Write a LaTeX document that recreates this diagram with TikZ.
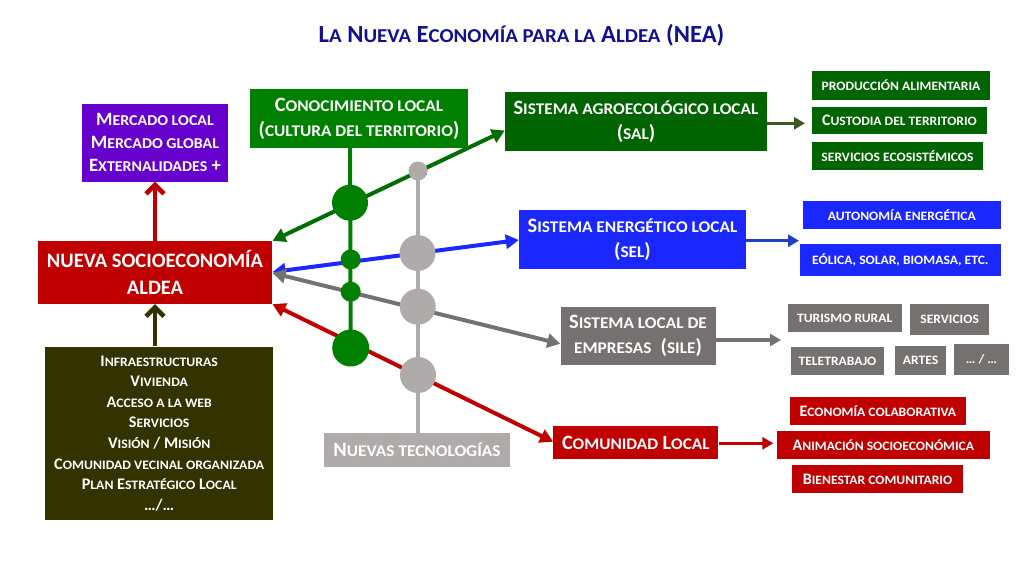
\documentclass[tikz,border=0pt]{standalone}
\usepackage{fontspec}
\setmainfont{Carlito}
\newfontfamily\smallf{Carlito}[Scale=0.8, FakeStretch=1.06]
\usetikzlibrary{arrows.meta}
\newcommand\lc[1]{{\smallf #1}}
\definecolor{navy}{RGB}{16,16,144}
\definecolor{cpurple}{RGB}{102,0,204}
\definecolor{cgreen}{RGB}{0,128,0}
\definecolor{dgreen}{RGB}{0,100,0}
\definecolor{agreen}{RGB}{0,110,0}
\definecolor{oarrow}{RGB}{62,88,38}
\definecolor{cblue}{RGB}{26,40,255}
\definecolor{barrow}{RGB}{32,64,200}
\definecolor{cred}{RGB}{192,0,0}
\definecolor{cgray}{RGB}{118,113,113}
\definecolor{lgray}{RGB}{175,171,171}
\definecolor{colive}{RGB}{51,51,0}
\tikzset{
  box/.style={rectangle, inner sep=0pt, text=white, align=center,
    font=\bfseries\fontsize{20.4}{25}\selectfont},
  item/.style={rectangle, inner sep=0pt, text=white, align=center,
    font=\bfseries\fontsize{16}{19}\selectfont},
  dbl/.style={line width=4pt, {Triangle[length=13pt,width=14pt]}-{Triangle[length=13pt,width=14pt]}},
  sarr/.style={line width=3.5pt, -{Triangle[length=11pt,width=12pt]}},
  barb/.style={line width=4.5pt, -{Straight Barb[length=9pt,width=18pt,line width=4.5pt]}},
  bigdot/.style={circle, inner sep=0pt, minimum size=36pt},
  smalldot/.style={circle, inner sep=0pt, minimum size=20pt},
}
\begin{document}
\begin{tikzpicture}[x=1pt,y=-1pt]
\fill[white] (0,0) rectangle (1024,576);
\useasboundingbox (0,0) rectangle (1024,576);

\node[text=navy, font=\bfseries\fontsize{24.6}{28}\selectfont] (title) at (521.5,35)
  {L\lc{A} N\lc{UEVA} E\lc{CONOMÍA PARA LA} A\lc{LDEA} (NEA)};

% main boxes
\node[box, fill=cpurple, minimum width=146pt, minimum height=78pt, font=\bfseries\fontsize{18.8}{23}\selectfont] (merc) at (155,142.5)
  {M\lc{ERCADO LOCAL}\\M\lc{ERCADO GLOBAL}\\E\lc{XTERNALIDADES} +};
\node[box, fill=cgreen, minimum width=218pt, minimum height=59pt] (conoc) at (359,118.5)
  {C\lc{ONOCIMIENTO LOCAL}\\(\lc{CULTURA DEL TERRITORIO})};
\node[box, fill=dgreen, minimum width=262pt, minimum height=59pt] (sal) at (636,121.5)
  {S\lc{ISTEMA AGROECOLÓGICO LOCAL}\\(\lc{SAL})};
\node[box, fill=cblue, minimum width=227pt, minimum height=59pt] (sel) at (632.5,239.5)
  {S\lc{ISTEMA ENERGÉTICO LOCAL}\\(\lc{SEL})};
\node[box, fill=cgray, minimum width=155pt, minimum height=58.5pt] (sle) at (638,335.75)
  {S\lc{ISTEMA LOCAL DE}\\\lc{EMPRESAS}\ \ (\lc{SILE})};
\node[box, fill=cred, minimum width=165pt, minimum height=33.3pt, font=\bfseries\fontsize{20.25}{25}\selectfont] (com) at (635.8,442.7)
  {C\lc{OMUNIDAD} L\lc{OCAL}};
\node[box, fill=lgray, minimum width=186pt, minimum height=33.3pt] (nuevas) at (417,450)
  {N\lc{UEVAS TECNOLOGÍAS}};
\node[box, fill=cred, minimum width=234.6pt, minimum height=63pt, font=\bfseries\fontsize{20.5}{27.3}\selectfont] (socio) at (155,272.5)
  {NUEVA SOCIOECONOMÍA\\ALDEA};
\node[box, fill=colive, minimum width=228.3pt, minimum height=173.3pt, font=\bfseries\fontsize{16.2}{20.6}\selectfont] (infra) at (159.2,433.3)
  {I\lc{NFRAESTRUCTURAS}\\V\lc{IVIENDA}\\A\lc{CCESO A LA WEB}\\S\lc{ERVICIOS}\\V\lc{ISIÓN} / M\lc{ISIÓN}\\C\lc{OMUNIDAD VECINAL ORGANIZADA}\\P\lc{LAN} E\lc{STRATÉGICO} L\lc{OCAL}\\…/…};

% right items
\node[item, fill=dgreen, minimum width=178pt, minimum height=28.5pt] (prod) at (901,85.25) {\lc{PRODUCCIÓN ALIMENTARIA}};
\node[item, fill=dgreen, minimum width=175pt, minimum height=27.6pt] (cust) at (899.5,120.5) {C\lc{USTODIA DEL TERRITORIO}};
\node[item, fill=dgreen, minimum width=171pt, minimum height=28.3pt] (serv) at (897.5,155.85) {\lc{SERVICIOS ECOSISTÉMICOS}};

\node[item, fill=cblue, minimum width=197.7pt, minimum height=28.3pt] (auto) at (901.85,215.15) {\lc{AUTONOMÍA ENERGÉTICA}};
\node[item, fill=cblue, minimum width=200.7pt, minimum height=31.7pt] (eol) at (900.35,260.15) {\lc{EÓLICA, SOLAR, BIOMASA, ETC.}};

\node[item, fill=cgray, minimum width=114pt, minimum height=28.3pt] (tur) at (844.7,318.15) {\lc{TURISMO RURAL}};
\node[item, fill=cgray, minimum width=79.3pt, minimum height=30.7pt] (servi) at (949.65,319.65) {\lc{SERVICIOS}};
\node[item, fill=cgray, minimum width=93.6pt, minimum height=28.3pt] (tele) at (837.5,360.85) {\lc{TELETRABAJO}};
\node[item, fill=cgray, minimum width=51pt, minimum height=29pt] (artes) at (920.5,360.5) {\lc{ARTES}};
\node[item, fill=cgray, minimum width=55pt, minimum height=31pt] (dots) at (981.5,359.5) {\lc{… / …}};

\node[item, fill=cred, minimum width=175.7pt, minimum height=28.3pt] (econ) at (877.85,410.85) {E\lc{CONOMÍA COLABORATIVA}};
\node[item, fill=cred, minimum width=213.3pt, minimum height=28.3pt] (anim) at (883.35,444.85) {A\lc{NIMACIÓN SOCIOECONÓMICA}};
\node[item, fill=cred, minimum width=170.4pt, minimum height=28.3pt] (bien) at (877.5,479.15) {B\lc{IENESTAR COMUNITARIO}};

% hub dots (positions)
\coordinate (g1) at (350,202.7);
\coordinate (g2) at (350.7,259.5);
\coordinate (g3) at (350.7,291.7);
\coordinate (g4) at (350.7,348);
\coordinate (t0) at (418,171);
\coordinate (t1) at (417.5,253);
\coordinate (t2) at (417.7,306.7);
\coordinate (t3) at (418,375);

% vertical lines
\draw[cgreen, line width=4pt] (conoc.south -| g1) -- (g4);
\draw[lgray, line width=4pt] (t0) -- (t0 |- nuevas.north);

% free ends of short arrows
\coordinate (salend) at (805,123.3);
\coordinate (selend) at (799,240.7);
\coordinate (sleend) at (781,340);
\coordinate (comend) at (773.3,443.3);

% double arrows
\draw[dbl, agreen] (socio.north east) -- (sal.west |- 0,130.5);
\draw[dbl, cblue] (socio.east |- 0,272) -- (sel.west |- 0,240);
\draw[dbl, cgray] (socio.east |- 0,273) -- (sle.west |- 0,343.8);
\draw[dbl, cred] (socio.south east) -- (com.west |- 0,441.7);

% vertical arrows
\draw[barb, cred] (socio.north) -- (merc.south);
\draw[barb, colive] (infra.north -| socio.south) -- (socio.south);

% short arrows
\draw[sarr, oarrow] (sal.east |- salend) -- (salend);
\draw[sarr, barrow] (sel.east |- selend) -- (selend);
\draw[sarr, cgray] (sle.east |- sleend) -- (sleend);
\draw[sarr, cred] (com.east |- comend) -- (comend);

% dots
\node[bigdot, fill=cgreen] (G1) at (g1) {};
\node[smalldot, fill=cgreen] (G2) at (g2) {};
\node[smalldot, fill=cgreen] (G3) at (g3) {};
\node[bigdot, fill=cgreen, minimum size=37pt] (G4) at (g4) {};
\node[circle, inner sep=0pt, minimum size=19pt, fill=lgray] (T0) at (t0) {};
\node[bigdot, fill=lgray] (T1) at (t1) {};
\node[bigdot, fill=lgray] (T2) at (t2) {};
\node[bigdot, fill=lgray] (T3) at (t3) {};
\end{tikzpicture}
\end{document}
